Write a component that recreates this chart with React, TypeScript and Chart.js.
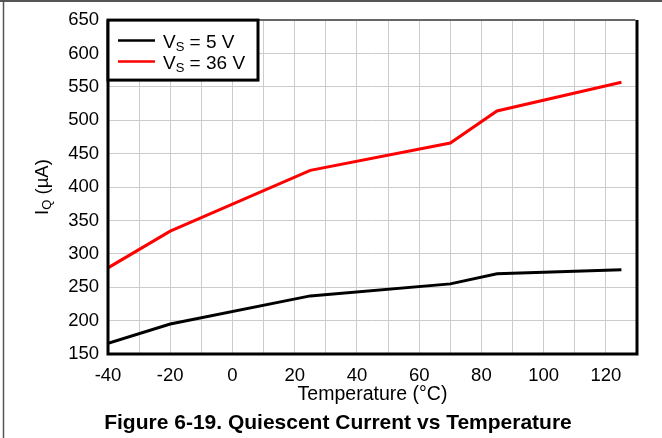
import React, { useEffect, useRef } from "react";
import { Chart, registerables } from "chart.js";

Chart.register(...registerables);

const temps5: number[] = [-40, -20, 25, 70, 85, 125];
const iq5: number[] = [166, 195, 237, 255, 270, 276];
const temps36: number[] = [-40, -20, 25, 70, 85, 125];
const iq36: number[] = [279, 334, 425, 466, 514, 557];

const xMin = -40;
const xMax = 130;
const yMin = 150;
const yMax = 650;

const legendItems = [
  { main: "V", sub: "S", rest: " = 5 V", color: "#000000" },
  { main: "V", sub: "S", rest: " = 36 V", color: "#ff0000" },
];
const xTitle = "Temperature (°C)";
const yTitleMain = "I";
const yTitleSub = "Q";
const yTitleRest = " (µA)";
const caption = "Figure 6-19. Quiescent Current vs Temperature";

const FONT = "'Liberation Sans', Arial, sans-serif";

const decorPlugin = {
  id: "decor",
  afterDraw(chart: any) {
    const ctx = chart.ctx as CanvasRenderingContext2D;
    const a = chart.chartArea;
    ctx.save();

    // outer frame
    ctx.strokeStyle = "#555555";
    ctx.lineWidth = 2;
    ctx.beginPath();
    ctx.moveTo(0, 1);
    ctx.lineTo(662, 1);
    ctx.stroke();
    ctx.lineWidth = 1.5;
    ctx.beginPath();
    ctx.moveTo(3.5, 0);
    ctx.lineTo(3.5, 438);
    ctx.stroke();

    // plot frame
    ctx.strokeStyle = "#000000";
    ctx.lineWidth = 3;
    ctx.beginPath();
    ctx.moveTo(a.left, a.top);
    ctx.lineTo(a.left, a.bottom);
    ctx.lineTo(a.right, a.bottom);
    ctx.lineTo(a.right, a.top);
    ctx.stroke();
    ctx.strokeStyle = "#666666";
    ctx.lineWidth = 2;
    ctx.beginPath();
    ctx.moveTo(a.left, a.top);
    ctx.lineTo(a.right - 1.5, a.top);
    ctx.stroke();

    // legend box
    const lx = a.left;
    const ly = a.top;
    const lw = 150;
    const lh = 60;
    ctx.fillStyle = "#ffffff";
    ctx.fillRect(lx, ly, lw, lh);
    ctx.strokeStyle = "#000000";
    ctx.lineWidth = 3;
    ctx.strokeRect(lx, ly, lw, lh);

    legendItems.forEach((it, i) => {
      const cy = ly + 20.5 + i * 21;
      ctx.strokeStyle = it.color;
      ctx.lineWidth = 2.5;
      ctx.beginPath();
      ctx.moveTo(lx + 10, cy);
      ctx.lineTo(lx + 47, cy);
      ctx.stroke();
      ctx.fillStyle = "#000000";
      ctx.textBaseline = "alphabetic";
      ctx.textAlign = "left";
      let tx = lx + 55;
      const base = cy + 7;
      ctx.font = `19px ${FONT}`;
      ctx.fillText(it.main, tx, base);
      tx += ctx.measureText(it.main).width;
      ctx.font = `13px ${FONT}`;
      ctx.fillText(it.sub, tx, base + 3);
      tx += ctx.measureText(it.sub).width;
      ctx.font = `19px ${FONT}`;
      ctx.fillText(it.rest, tx, base);
    });

    // x title
    ctx.fillStyle = "#000000";
    ctx.font = `19.5px ${FONT}`;
    ctx.textAlign = "center";
    ctx.textBaseline = "middle";
    ctx.fillText(xTitle, (a.left + a.right) / 2, 395);

    // y title
    ctx.save();
    ctx.translate(41, (a.top + a.bottom) / 2);
    ctx.rotate(-Math.PI / 2);
    ctx.font = `18.5px ${FONT}`;
    const w1 = ctx.measureText(yTitleMain).width;
    const w3 = ctx.measureText(yTitleRest).width;
    ctx.font = `13px ${FONT}`;
    const w2 = ctx.measureText(yTitleSub).width;
    let tx = -(w1 + w2 + w3) / 2;
    ctx.textAlign = "left";
    ctx.textBaseline = "alphabetic";
    ctx.font = `18.5px ${FONT}`;
    ctx.fillText(yTitleMain, tx, 7);
    tx += w1;
    ctx.font = `13px ${FONT}`;
    ctx.fillText(yTitleSub, tx, 10);
    tx += w2;
    ctx.font = `18.5px ${FONT}`;
    ctx.fillText(yTitleRest, tx, 7);
    ctx.restore();

    // caption
    ctx.font = `bold 21px ${FONT}`;
    ctx.textAlign = "center";
    ctx.textBaseline = "middle";
    ctx.fillStyle = "#000000";
    ctx.fillText(caption, 338, 423);

    ctx.restore();
  },
};

export default function App() {
  const ref = useRef<HTMLCanvasElement | null>(null);

  useEffect(() => {
    if (!ref.current) return;
    const chart = new Chart(ref.current, {
      type: "line",
      data: {
        datasets: [
          {
            label: "VS = 5 V",
            data: temps5.map((t, i) => ({ x: t, y: iq5[i] })),
            borderColor: "#000000",
            borderWidth: 3,
            pointRadius: 0,
            tension: 0,
          },
          {
            label: "VS = 36 V",
            data: temps36.map((t, i) => ({ x: t, y: iq36[i] })),
            borderColor: "#ff0000",
            borderWidth: 3,
            pointRadius: 0,
            tension: 0,
          },
        ],
      },
      options: {
        animation: false,
        responsive: false,
        layout: { padding: { left: 0, right: 25, top: 17, bottom: 54 } },
        plugins: {
          legend: { display: false },
          tooltip: { enabled: false },
        },
        scales: {
          x: {
            type: "linear",
            min: xMin,
            max: xMax,
            border: { display: false },
            grid: { color: "#cccccc", lineWidth: 1, drawTicks: false },
            ticks: {
              stepSize: 10,
              autoSkip: false,
              maxRotation: 0,
              padding: 11,
              color: "#000000",
              font: { family: FONT, size: 18.5 },
              callback: (v: any) => (Number(v) % 20 === 0 ? String(v) : ""),
            },
            afterFit: (s: any) => {
              s.height = 30;
            },
          },
          y: {
            type: "linear",
            min: yMin,
            max: yMax,
            border: { display: false },
            grid: { color: "#cccccc", lineWidth: 1, drawTicks: false },
            ticks: {
              stepSize: 50,
              padding: 9,
              color: "#000000",
              font: { family: FONT, size: 18.5 },
            },
            afterFit: (s: any) => {
              s.width = 108;
            },
          },
        },
      },
      plugins: [decorPlugin],
    });
    return () => chart.destroy();
  }, []);

  return (
    <div style={{ position: "fixed", left: 0, top: 0, width: 662, height: 438, background: "#fff" }}>
      <canvas ref={ref} width={662} height={438} style={{ display: "block" }} />
    </div>
  );
}
